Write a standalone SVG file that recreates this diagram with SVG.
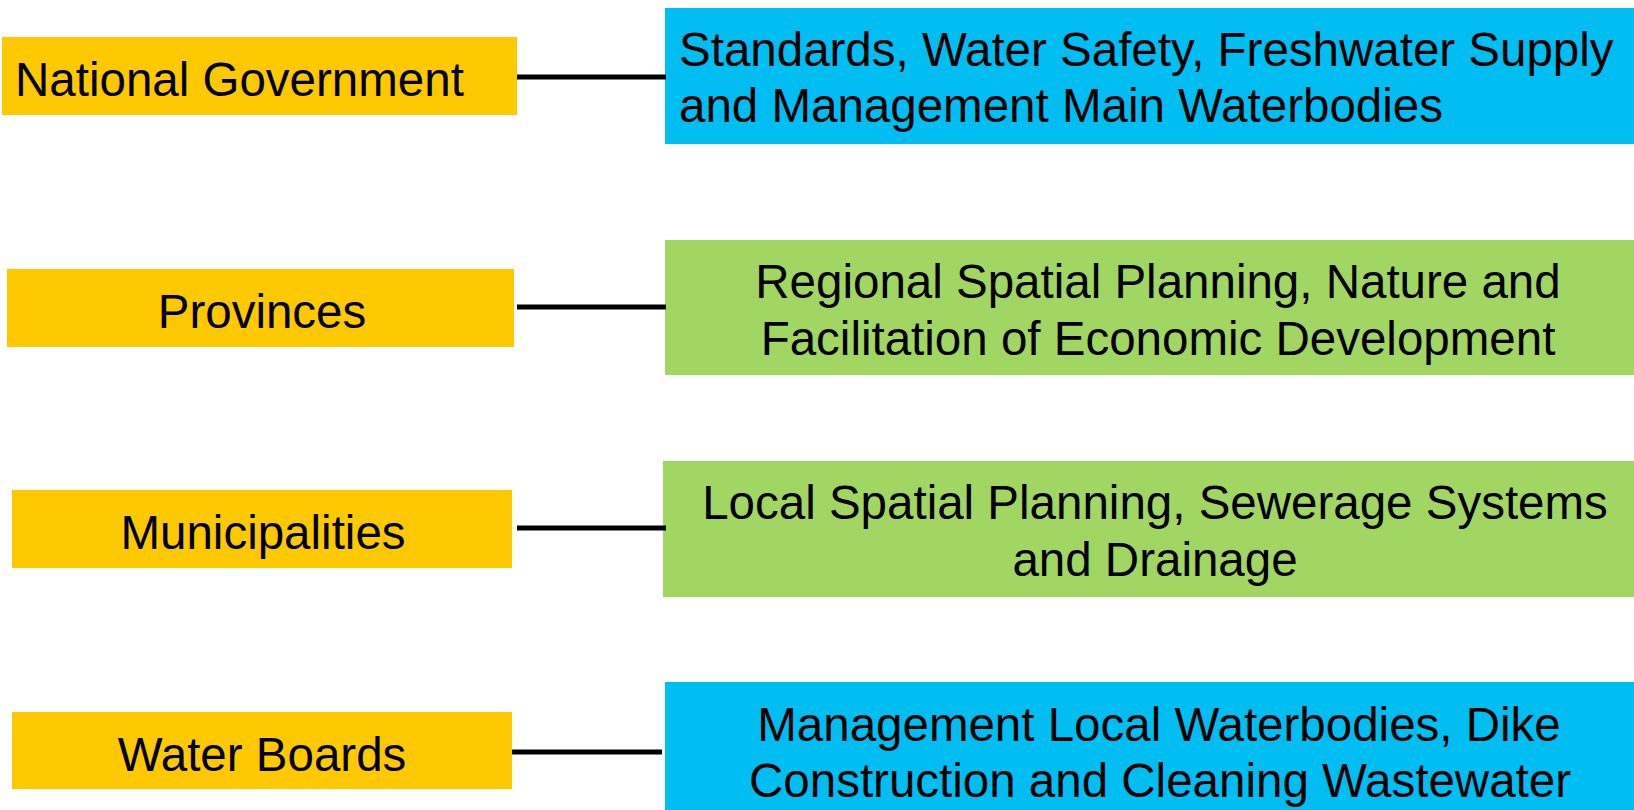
<svg xmlns="http://www.w3.org/2000/svg" width="1634" height="810" viewBox="0 0 1634 810">
<style>
.lvl{fill:#FFC901}
.blue{fill:#00BEF2}
.green{fill:#A1D663}
text{font-family:"Liberation Sans",Arial,sans-serif;font-size:47.5px;fill:#000}
.c{text-anchor:middle}
.conn line{stroke:#000;stroke-width:5}
</style>
<rect width="1634" height="810" fill="#fff"/>
<g id="national">
<rect class="lvl" x="2" y="37" width="515" height="78"/>
<text x="15" y="96">National Government</text>
</g>
<g id="national-tasks">
<rect class="blue" x="665" y="8" width="969" height="136"/>
<text x="679" y="66">Standards, Water Safety, Freshwater Supply</text>
<text x="679" y="122">and Management Main Waterbodies</text>
</g>
<g id="provinces">
<rect class="lvl" x="7" y="269" width="507" height="78"/>
<text class="c" x="262" y="328">Provinces</text>
</g>
<g id="provinces-tasks">
<rect class="green" x="665" y="240" width="969" height="135"/>
<text class="c" x="1158" y="298">Regional Spatial Planning, Nature and</text>
<text class="c" x="1158" y="355">Facilitation of Economic Development</text>
</g>
<g id="municipalities">
<rect class="lvl" x="12" y="490" width="500" height="78"/>
<text class="c" x="263" y="549">Municipalities</text>
</g>
<g id="municipalities-tasks">
<rect class="green" x="663" y="461" width="971" height="136"/>
<text class="c" x="1155" y="519">Local Spatial Planning, Sewerage Systems</text>
<text class="c" x="1155" y="576">and Drainage</text>
</g>
<g id="waterboards">
<rect class="lvl" x="12" y="712" width="500" height="77"/>
<text class="c" x="262" y="771">Water Boards</text>
</g>
<g id="waterboards-tasks">
<rect class="blue" x="665" y="682" width="969" height="128"/>
<text class="c" x="1159" y="741">Management Local Waterbodies, Dike</text>
<text class="c" x="1160" y="797">Construction and Cleaning Wastewater</text>
</g>
<g id="connectors" class="conn">
<line x1="517" y1="77" x2="666" y2="77"/>
<line x1="517" y1="307" x2="666" y2="307"/>
<line x1="517" y1="528" x2="666" y2="528"/>
<line x1="512" y1="752" x2="662" y2="752"/>
</g>
</svg>
